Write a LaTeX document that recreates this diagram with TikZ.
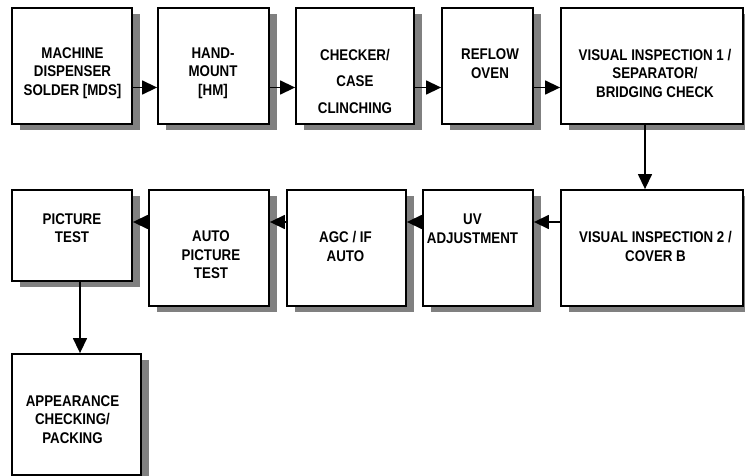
\documentclass[tikz,border=0pt]{standalone}
\usepackage{fontspec}
\setmainfont{Liberation Sans}[FakeStretch=0.86]
\usetikzlibrary{shadows,arrows.meta}

\begin{document}
\begin{tikzpicture}[x=1pt, y=-1pt,
    boite/.style={draw, line width=1.8pt, fill=white, inner sep=0pt,
      drop shadow={shadow xshift=8pt, shadow yshift=-6pt, fill=black!50, opacity=1}},
    texte/.style={align=center, inner sep=0pt, font=\bfseries\fontsize{15.5}{18.5}\selectfont},
    fleche/.style={line width=1.4pt, -{Triangle[length=15pt, width=14pt]}}]

    % Cadre de l'image
    \useasboundingbox (0,0) rectangle (745,476);

    % ==============================================
    % 1. LES ETAPES : nom/centre/largeur/hauteur/position du texte/texte
    % ==============================================
    \foreach \nom/\cx/\cy/\w/\h/\tx/\ty/\txt in {
        mds/72/66/120/116/72.5/73/{MACHINE\\DISPENSER\\SOLDER [MDS]},
        hm/213.5/66/111/116/213/73/{HAND-\\MOUNT\\{}[HM]},
        checker/355/66/118/116/355/81/{CHECKER/\\[8pt]CASE\\[8pt]CLINCHING},
        reflow/487.5/66/91/116/490/63.5/{REFLOW\\OVEN},
        vi1/652/66/182/116/655/73/{VISUAL INSPECTION 1 /\\SEPARATOR/\\BRIDGING CHECK},
        vi2/652/248/182/116/655.5/246.5/{VISUAL INSPECTION 2 /\\COVER B},
        uv/478/248/110/116/472.5/228.5/{UV\\ADJUSTMENT},
        agc/346.5/248/119/116/345.5/246.5/{AGC / IF\\AUTO},
        autotest/209/248/120/116/211/255/{AUTO\\PICTURE\\TEST},
        pictest/72/235.5/120/91/72/228/{PICTURE\\TEST},
        packing/76.5/414.5/129/121/72.5/419.5/{APPEARANCE\\CHECKING/\\PACKING}} {
        \node[boite, minimum width=\w pt, minimum height=\h pt] (\nom) at (\cx,\cy) {};
        \node[texte] (\nom-t) at (\tx,\ty) {\txt};
    }

    % ==============================================
    % 2. LES FLECHES
    % ==============================================
    % Rangee du haut, vers la droite
    \draw[fleche] ([yshift=-21.5pt]mds.east) -- ([yshift=-21.5pt]hm.west);
    \draw[fleche] ([yshift=-21.5pt]hm.east) -- ([yshift=-21.5pt]checker.west);
    \draw[fleche] ([yshift=-21.5pt]checker.east) -- ([yshift=-21.5pt]reflow.west);
    \draw[fleche] ([yshift=-21.5pt]reflow.east) -- ([yshift=-21.5pt]vi1.west);

    % Descente vers la deuxieme rangee
    \draw[fleche] ([xshift=-7pt]vi1.south) -- ([xshift=-7pt]vi2.north);

    % Rangee du milieu, vers la gauche
    \draw[fleche] ([yshift=26pt]vi2.west) -- ([yshift=26pt]uv.east);
    \draw[fleche] ([yshift=26pt]uv.west) -- ([yshift=26pt]agc.east);
    \draw[fleche] ([yshift=26pt]agc.west) -- ([yshift=26pt]autotest.east);
    \draw[fleche] ([yshift=26pt]autotest.west) -- ([yshift=26pt]autotest.west -| pictest.east);

    % Descente vers l'emballage
    \draw[fleche] ([xshift=8pt]pictest.south) -- ([xshift=8pt]pictest.south |- packing.north);

\end{tikzpicture}
\end{document}
